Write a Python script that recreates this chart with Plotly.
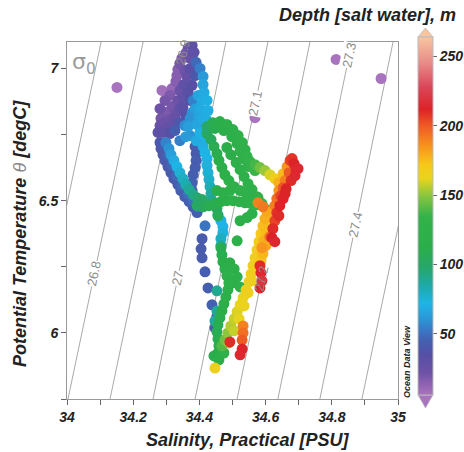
import plotly.graph_objects as go

# ---------------- isopycnals (sigma-0) ----------------
sigma_levels = [26.7, 26.8, 26.9, 27.0, 27.1, 27.2, 27.3, 27.4, 27.5]
iso_temp_ends = [5.75, 7.1]
iso_sal_low = [33.876, 34.003, 34.130, 34.260, 34.387, 34.514, 34.637, 34.764, 34.891]
iso_sal_high = [34.103, 34.230, 34.356, 34.480, 34.607, 34.734, 34.861, 34.985, 35.118]

label_levels = [26.8, 26.9, 27.0, 27.1, 27.2, 27.3, 27.4]
label_text = ["26.8", "26.9", "27", "27.1", "27.2", "27.3", "27.4"]
label_temp = [6.223, 7.061, 6.205, 6.867, 6.205, 7.049, 6.409]

# ---------------- scatter data: salinity, potential temperature, depth ----------------
surface_sal = [34.151, 34.813, 34.949, 34.568, 34.287, 34.329]
surface_temp = [6.928, 7.034, 6.962, 6.814, 6.917, 6.920]
surface_depth = [4, 5, 5, 6, 8, 10]

violet_sal = [34.378, 34.366, 34.359, 34.347, 34.341, 34.372, 34.384, 34.335, 34.356, 34.332,
              34.363, 34.329, 34.353, 34.366, 34.350, 34.335, 34.317, 34.350, 34.299, 34.329,
              34.284, 34.311, 34.281, 34.305, 34.275, 34.311, 34.341, 34.326,
              34.296, 34.311, 34.281, 34.296, 34.317, 34.290, 34.326, 34.341, 34.359, 34.372,
              34.378, 34.341, 34.317, 34.387, 34.372]
violet_temp = [7.087, 7.076, 7.057, 7.038, 7.019, 7.038, 7.061, 6.996, 6.992, 6.973,
               6.970, 6.951, 6.939, 6.909, 6.890, 6.879, 6.856, 6.852, 6.833, 6.830,
               6.811, 6.807, 6.784, 6.777, 6.758, 6.754, 6.795, 6.765,
               6.879, 6.898, 6.848, 6.795, 6.784, 6.758, 6.811, 6.848, 6.822, 6.879,
               6.936, 6.917, 6.924, 6.973, 7.000]
violet_depth = [30, 24, 20, 18, 20, 26, 30, 16, 22, 15,
                26, 16, 30, 34, 28, 22, 20, 32, 18, 24,
                20, 22, 24, 26, 30, 34, 40, 44,
                20, 18, 22, 24, 28, 30, 26, 28, 36, 36,
                34, 24, 12, 40, 32]

blue_sal = [34.390, 34.402, 34.411, 34.411, 34.414, 34.408, 34.402, 34.399, 34.411, 34.393,
            34.366, 34.402, 34.359, 34.390, 34.378, 34.381,
            34.356, 34.372, 34.387, 34.396, 34.423, 34.423, 34.372, 34.341, 34.417, 34.426]
blue_temp = [7.023, 7.000, 6.970, 6.939, 6.909, 6.879, 6.848, 6.818, 6.811, 6.788,
             6.780, 6.758, 6.742, 6.727, 6.833, 6.879,
             6.784, 6.811, 6.848, 6.898, 6.879, 6.803, 6.746, 6.727, 6.746, 6.841]
blue_depth = [48, 55, 62, 66, 68, 68, 68, 66, 68, 66, 64, 70, 62, 68, 60, 55,
              58, 60, 64, 66, 70, 70, 60, 55, 72, 70]

arc_sal = [34.281, 34.284, 34.290, 34.296, 34.305, 34.314, 34.323, 34.335, 34.344, 34.356,
           34.369, 34.381, 34.393, 34.417, 34.408, 34.405, 34.408, 34.417, 34.426, 34.438,
           34.453, 34.447,
           34.296, 34.305, 34.317, 34.332, 34.347, 34.366, 34.381, 34.396]
arc_temp = [6.720, 6.697, 6.674, 6.652, 6.629, 6.606, 6.583, 6.561, 6.538, 6.515,
            6.496, 6.477, 6.455, 6.405, 6.356, 6.318, 6.284, 6.231, 6.170, 6.106,
            6.061, 6.019,
            6.708, 6.670, 6.633, 6.595, 6.557, 6.527, 6.500, 6.477]
arc_depth = [40, 40, 40, 41, 41, 42, 42, 42, 43, 43, 44, 44, 44, 52, 42, 42, 42, 44, 44, 45, 48, 44,
             44, 46, 46, 48, 48, 50, 50, 52]

inner_sal = [34.387, 34.390, 34.390, 34.387, 34.381, 34.378, 34.378]
inner_temp = [6.705, 6.678, 6.652, 6.625, 6.598, 6.568, 6.538]
inner_depth = [42, 42, 43, 44, 44, 45, 45]

cyanarc_sal = [34.299, 34.308, 34.314, 34.323, 34.332, 34.341, 34.350, 34.359, 34.369, 34.381, 34.393, 34.408]
cyanarc_temp = [6.720, 6.697, 6.674, 6.652, 6.629, 6.606, 6.583, 6.561, 6.542, 6.523, 6.511, 6.504]
cyanarc_depth = [56, 60, 64, 68, 72, 76, 80, 84, 88, 92, 95, 100]

cyancol_sal = [34.405, 34.411, 34.417, 34.423, 34.423, 34.426, 34.429, 34.432, 34.435, 34.438,
               34.456, 34.465, 34.471, 34.471, 34.465, 34.465]
cyancol_temp = [6.727, 6.705, 6.682, 6.659, 6.633, 6.606, 6.580, 6.553, 6.527, 6.500,
                6.447, 6.424, 6.402, 6.379, 6.356, 6.330]
cyancol_depth = [68, 70, 72, 72, 74, 76, 78, 82, 86, 90, 72, 70, 72, 74, 80, 86]

loop_sal = [34.423, 34.441, 34.462, 34.483, 34.501, 34.517, 34.529, 34.538, 34.544, 34.553,
            34.568, 34.583, 34.598, 34.613, 34.628, 34.640,
            34.423, 34.435, 34.444, 34.453, 34.459, 34.468, 34.477, 34.489, 34.505, 34.523,
            34.541, 34.559, 34.577,
            34.483, 34.495, 34.511, 34.523, 34.535, 34.547, 34.559, 34.574, 34.589, 34.604,
            34.393, 34.411, 34.429, 34.447, 34.465, 34.483, 34.501, 34.520, 34.538, 34.556, 34.574,
            34.453, 34.471, 34.492, 34.523, 34.544, 34.559, 34.514,
            34.447, 34.474, 34.498, 34.514, 34.523, 34.532, 34.547, 34.568]
loop_temp = [6.780, 6.795, 6.799, 6.788, 6.769, 6.746, 6.720, 6.693, 6.667, 6.648,
             6.636, 6.625, 6.614, 6.598, 6.583, 6.568,
             6.754, 6.731, 6.705, 6.678, 6.652, 6.625, 6.598, 6.576, 6.553, 6.538,
             6.527, 6.519, 6.511,
             6.701, 6.674, 6.644, 6.617, 6.591, 6.564, 6.542, 6.515, 6.489, 6.466,
             6.481, 6.477, 6.481, 6.489, 6.496, 6.500, 6.500, 6.496, 6.492, 6.489, 6.485,
             6.538, 6.530, 6.538, 6.424, 6.436, 6.451, 6.348,
             6.773, 6.765, 6.742, 6.716, 6.686, 6.659, 6.629, 6.614]
loop_depth = [100, 108, 114, 118, 120, 122, 124, 126, 128, 132,
              138, 145, 152, 160, 168, 178,
              102, 104, 108, 110, 112, 114, 116, 118, 120, 122,
              124, 126, 130,
              112, 114, 116, 118, 120, 122, 124, 126, 130, 136,
              100, 104, 108, 110, 112, 114, 116, 118, 120, 122, 126,
              112, 114, 116, 115, 116, 118, 118,
              110, 114, 118, 120, 122, 124, 128, 136]

lowcol_sal = [34.453, 34.456, 34.465, 34.468, 34.471, 34.477, 34.483, 34.489, 34.486, 34.480,
              34.474, 34.468, 34.462, 34.456, 34.453, 34.456, 34.459, 34.456, 34.459,
              34.492, 34.505, 34.514, 34.523, 34.501, 34.453, 34.453, 34.447,
              34.468, 34.474, 34.444]
lowcol_temp = [6.470, 6.443, 6.322, 6.295, 6.269, 6.242, 6.216, 6.189, 6.163, 6.136,
               6.110, 6.083, 6.057, 6.030, 6.004, 5.977, 5.951, 5.924, 5.898,
               6.265, 6.242, 6.212, 6.174, 6.189, 6.159, 6.083, 6.045,
               5.970, 5.924, 5.913]
lowcol_depth = [104, 106, 108, 110, 112, 114, 116, 118, 118, 116,
                114, 112, 110, 108, 106, 108, 110, 112, 114,
                112, 116, 118, 122, 120, 90, 88, 86,
                118, 122, 110]

diag_sal = [34.468, 34.477, 34.486, 34.495, 34.505, 34.514, 34.523, 34.532, 34.541, 34.550,
            34.556, 34.562, 34.568, 34.574, 34.580, 34.586, 34.592, 34.598, 34.604, 34.447,
            34.489, 34.505, 34.520, 34.535, 34.547, 34.559, 34.571, 34.580, 34.589]
diag_temp = [5.951, 5.973, 6.000, 6.026, 6.053, 6.080, 6.106, 6.133, 6.163, 6.193,
             6.223, 6.254, 6.284, 6.314, 6.345, 6.375, 6.405, 6.432, 6.458, 5.867,
             5.962, 6.008, 6.053, 6.102, 6.152, 6.197, 6.242, 6.292, 6.330]
diag_depth = [140, 145, 150, 155, 158, 160, 162, 164, 165, 166,
              166, 166, 166, 168, 170, 172, 175, 178, 180, 165,
              150, 158, 162, 164, 166, 166, 167, 170, 174]

right_sal = [34.674, 34.686, 34.692, 34.689, 34.665, 34.653, 34.671, 34.677, 34.659, 34.653,
             34.640, 34.662, 34.646, 34.634, 34.653, 34.628, 34.643, 34.619, 34.634, 34.613,
             34.628, 34.607, 34.622, 34.601, 34.619, 34.628, 34.595, 34.589, 34.577, 34.592,
             34.583, 34.586, 34.589, 34.583,
             34.680, 34.698, 34.659, 34.640, 34.613, 34.601, 34.592, 34.586]
right_temp = [6.652, 6.640, 6.617, 6.595, 6.629, 6.602, 6.606, 6.576, 6.576, 6.549,
              6.538, 6.545, 6.519, 6.508, 6.508, 6.481, 6.481, 6.462, 6.455, 6.436,
              6.424, 6.409, 6.394, 6.379, 6.360, 6.345, 6.348, 6.322, 6.492, 6.477,
              6.254, 6.227, 6.197, 6.170,
              6.659, 6.621, 6.527, 6.443, 6.364, 6.330, 6.299, 6.273]
right_depth = [205, 212, 214, 214, 185, 175, 200, 210, 190, 200,
               185, 212, 205, 195, 212, 190, 212, 180, 208, 175,
               205, 172, 210, 175, 212, 214, 178, 185, 190, 192,
               210, 214, 220, 212,
               208, 214, 212, 210, 195, 180, 176, 172]

bottom_sal = [34.532, 34.532, 34.529, 34.529, 34.523, 34.492]
bottom_temp = [6.026, 6.000, 5.973, 5.939, 5.917, 5.966]
bottom_depth = [190, 195, 200, 212, 214, 210]

# colour scale (ODV-like rainbow) and colour-bar ticks
cscale_depth = [6, 12, 22, 35, 45, 52, 62, 72, 85, 98, 112, 135, 150, 162, 172, 185, 200, 212, 228, 245, 264]
cscale_color = ["#a874bd", "#9566b5", "#6e52a6", "#5550a5", "#4460b0", "#3b75c2", "#2a9ad8",
                "#1fb4e6", "#1eaaa8", "#27a66a", "#2bae4a", "#34b24a", "#8cc63f", "#e8d41f",
                "#f7c81a", "#f7951e", "#ee5a25", "#dc2328", "#d9475a", "#e88a88", "#f7c6a0"]
cbar_ticks = [50, 100, 150, 200, 250]

# ---------------- build ----------------
groups = [
    (surface_sal, surface_temp, surface_depth),
    (violet_sal, violet_temp, violet_depth),
    (blue_sal, blue_temp, blue_depth),
    (arc_sal, arc_temp, arc_depth),
    (inner_sal, inner_temp, inner_depth),
    (cyanarc_sal, cyanarc_temp, cyanarc_depth),
    (cyancol_sal, cyancol_temp, cyancol_depth),
    (loop_sal, loop_temp, loop_depth),
    (lowcol_sal, lowcol_temp, lowcol_depth),
    (diag_sal, diag_temp, diag_depth),
    (right_sal, right_temp, right_depth),
    (bottom_sal, bottom_temp, bottom_depth),
]
sal, temp, depth = [], [], []
for s_list, t_list, d_list in groups:
    for s, t, d in zip(s_list, t_list, d_list):
        sal.append(s)
        temp.append(t)
        depth.append(d)
order = sorted(range(len(depth)), key=lambda i: depth[i])
sal = [sal[i] for i in order]
temp = [temp[i] for i in order]
depth = [depth[i] for i in order]

cmin, cmax = cscale_depth[0], cscale_depth[-1]
colorscale = [[(d - cmin) / (cmax - cmin), c] for d, c in zip(cscale_depth, cscale_color)]

FONT = "Liberation Sans, Arial, sans-serif"
BI = dict(family=FONT, color="#222222", weight="bold", style="italic")

fig = go.Figure()

for k in range(len(sigma_levels)):
    fig.add_trace(go.Scatter(
        x=[iso_sal_low[k], iso_sal_high[k]], y=iso_temp_ends,
        mode="lines", line=dict(color="#a9a9a9", width=1),
        hoverinfo="skip", showlegend=False))

fig.add_trace(go.Scatter(
    x=sal, y=temp, mode="markers", showlegend=False,
    marker=dict(
        size=11, color=depth, colorscale=colorscale, cmin=cmin, cmax=cmax,
        line=dict(width=0), opacity=1,
        colorbar=dict(
            thickness=15, len=358, lenmode="pixels",
            x=1.0604, xanchor="left", xpad=0,
            y=0.5126, yanchor="middle", ypad=0,
            outlinecolor="#bbbbbb", outlinewidth=1,
            tickvals=cbar_ticks, ticks="outside", ticklen=4, tickcolor="#666",
            tickfont=dict(size=14, **BI),
        ),
    ),
))

annotations = []
for lvl, txt, t in zip(label_levels, label_text, label_temp):
    k = sigma_levels.index(lvl)
    frac = (t - iso_temp_ends[0]) / (iso_temp_ends[1] - iso_temp_ends[0])
    s = iso_sal_low[k] + frac * (iso_sal_high[k] - iso_sal_low[k])
    clear = txt not in ("26.9", "27.2")
    ann = dict(
        x=s, y=t, xref="x", yref="y", text=txt, showarrow=False, textangle=-78,
        font=dict(family=FONT, size=13, color="#8c8c8c"), borderpad=0)
    if clear:
        ann["bgcolor"] = "white"
    annotations.append(ann)

annotations += [
    dict(x=34.051, y=7.019, xref="x", yref="y", text="σ<sub>0</sub>", showarrow=False,
         font=dict(family="DejaVu Sans", size=22, color="#9a9a9a")),
    dict(x=0.544, y=-0.1148, xref="paper", yref="paper", text="Salinity, Practical [PSU]",
         showarrow=False, yanchor="middle", font=dict(size=18, **BI)),
    dict(x=-0.142, y=0.465, xref="paper", yref="paper", textangle=-90,
         text="Potential Temperature <span style='color:#888888;font-weight:normal'>θ</span> [degC]",
         showarrow=False, xanchor="center", yanchor="middle", font=dict(size=18, **BI)),
    dict(x=1.181, y=1.0756, xref="paper", yref="paper", text="Depth [salt water], m",
         showarrow=False, xanchor="right", yanchor="middle", font=dict(size=18, **BI)),
    dict(x=1.027, y=0.106, xref="paper", yref="paper", text="Ocean Data View", textangle=-90,
         showarrow=False, xanchor="center", yanchor="middle", font=dict(size=9, **BI)),
]

shapes = [
    dict(type="path", xref="paper", yref="paper",
         path="M 1.0604 1.0140 L 1.1057 1.0140 L 1.0831 1.0392 Z",
         fillcolor="#f7c6a0", line=dict(color="#bbbbbb", width=0.8)),
    dict(type="path", xref="paper", yref="paper",
         path="M 1.0604 0.0112 L 1.1057 0.0112 L 1.0831 -0.0252 Z",
         fillcolor="#a874bd", line=dict(color="#bbbbbb", width=0.8)),
]

fig.update_layout(
    width=464, height=452,
    margin=dict(l=67, r=66, t=42, b=53, autoexpand=False),
    paper_bgcolor="white", plot_bgcolor="white",
    annotations=annotations, shapes=shapes,
    xaxis=dict(range=[34, 35], tick0=34, dtick=0.2, ticks="outside", ticklen=5, tickcolor="#666",
               showline=True, linecolor="#999999", linewidth=1, mirror=True,
               showgrid=False, zeroline=False, tickfont=dict(size=14, **BI), automargin=False,
               minor=dict(dtick=0.1, ticks="outside", ticklen=5, tickcolor="#666", showgrid=False)),
    yaxis=dict(range=[5.75, 7.1], tick0=0, dtick=0.5, ticks="outside", ticklen=5, tickcolor="#666",
               showline=True, linecolor="#999999", linewidth=1, mirror=True,
               showgrid=False, zeroline=False, tickfont=dict(size=14, **BI), automargin=False,
               minor=dict(dtick=0.25, ticks="outside", ticklen=5, tickcolor="#666", showgrid=False)),
)

fig.write_html("out.html", config={"displayModeBar": False},
               post_script="document.body.style.margin='0px';document.body.style.overflow='hidden';")
